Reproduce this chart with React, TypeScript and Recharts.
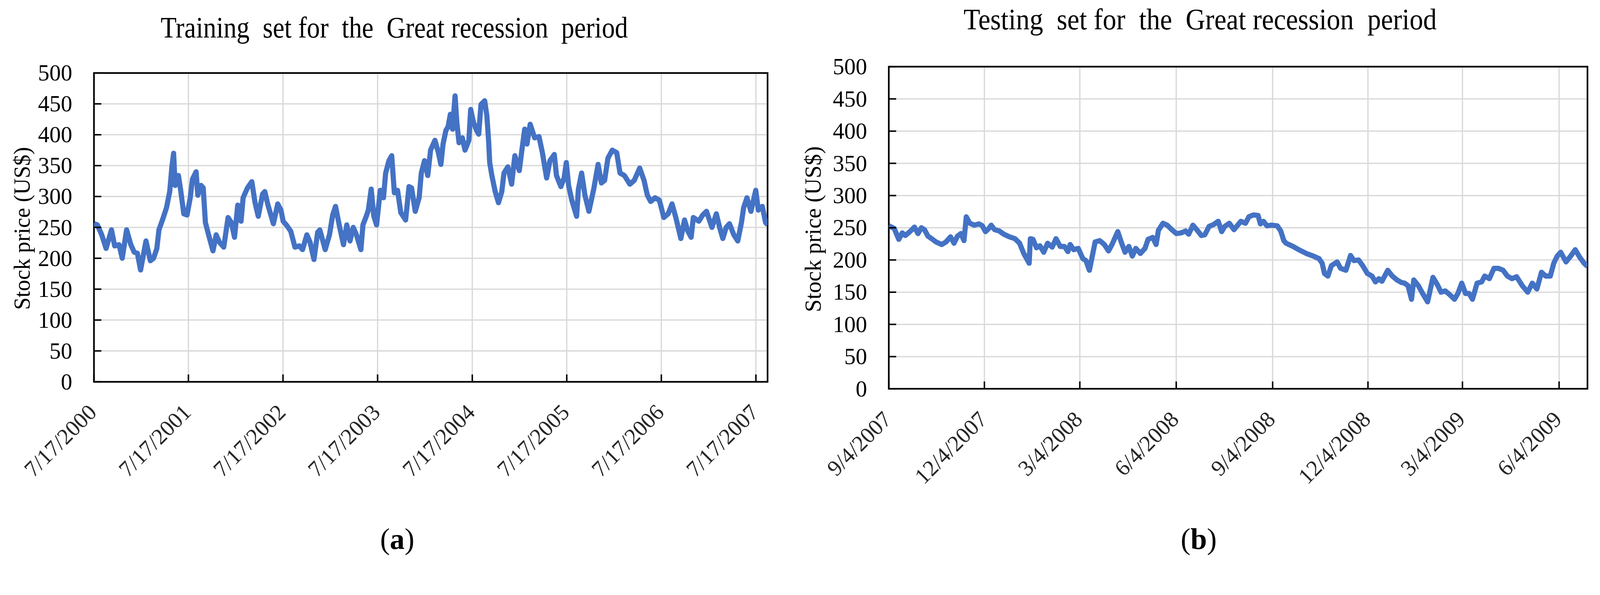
import React, { useLayoutEffect, useState } from 'react';
import { LineChart, Line, XAxis, YAxis, CartesianGrid, ReferenceArea } from 'recharts';

// ---------- data ----------
const trainYears = [
  2000.541, 2000.577, 2000.623, 2000.669, 2000.726, 2000.760, 2000.806, 2000.840, 2000.886, 2000.931,
  2000.966, 2001.000, 2001.034, 2001.091, 2001.137, 2001.171, 2001.206, 2001.228, 2001.274, 2001.308,
  2001.342, 2001.365, 2001.383, 2001.399, 2001.434, 2001.456, 2001.491, 2001.525, 2001.559, 2001.582,
  2001.621, 2001.639, 2001.673, 2001.696, 2001.719, 2001.753, 2001.799, 2001.833, 2001.867, 2001.913,
  2001.959, 2001.993, 2002.027, 2002.061, 2002.096, 2002.118, 2002.164, 2002.210, 2002.244, 2002.278,
  2002.324, 2002.347, 2002.381, 2002.438, 2002.484, 2002.518, 2002.541, 2002.575, 2002.621, 2002.666,
  2002.712, 2002.746, 2002.792, 2002.826, 2002.867, 2002.906, 2002.929, 2002.986, 2003.031, 2003.065,
  2003.095, 2003.134, 2003.179, 2003.214, 2003.248, 2003.282, 2003.316, 2003.363, 2003.385, 2003.420,
  2003.442, 2003.472, 2003.500, 2003.529, 2003.568, 2003.602, 2003.625, 2003.660, 2003.689, 2003.717,
  2003.751, 2003.785, 2003.836, 2003.872, 2003.899, 2003.938, 2003.979, 2004.002, 2004.036, 2004.070,
  2004.100, 2004.146, 2004.181, 2004.209, 2004.232, 2004.262, 2004.285, 2004.309, 2004.332, 2004.359,
  2004.378, 2004.401, 2004.436, 2004.464, 2004.505, 2004.524, 2004.552, 2004.586, 2004.609, 2004.633,
  2004.672, 2004.695, 2004.714, 2004.725, 2004.748, 2004.783, 2004.818, 2004.853, 2004.876, 2004.917,
  2004.957, 2004.991, 2005.038, 2005.061, 2005.095, 2005.119, 2005.153, 2005.200, 2005.246, 2005.281,
  2005.327, 2005.362, 2005.408, 2005.431, 2005.478, 2005.512, 2005.535, 2005.559, 2005.593, 2005.644,
  2005.663, 2005.697, 2005.732, 2005.774, 2005.825, 2005.871, 2005.906, 2005.940, 2005.975, 2006.021,
  2006.068, 2006.103, 2006.149, 2006.207, 2006.253, 2006.311, 2006.357, 2006.392, 2006.427, 2006.473,
  2006.519, 2006.566, 2006.612, 2006.653, 2006.693, 2006.746, 2006.785, 2006.820, 2006.855, 2006.878,
  2006.936, 2006.977, 2007.017, 2007.075, 2007.121, 2007.156, 2007.190, 2007.225, 2007.260, 2007.306,
  2007.348, 2007.387, 2007.410, 2007.445, 2007.487, 2007.538, 2007.565, 2007.607, 2007.642, 2007.663,
];
const trainPrices = [
  256, 254, 238, 216, 246, 220, 222, 200, 246, 222,
  210, 208, 181, 228, 196, 200, 216, 246, 266, 282,
  308, 348, 370, 318, 334, 312, 272, 270, 298, 328,
  340, 302, 318, 314, 258, 238, 212, 238, 226, 218,
  266, 258, 234, 286, 260, 298, 314, 324, 290, 268,
  304, 308, 286, 256, 288, 278, 260, 254, 244, 218,
  220, 214, 238, 226, 198, 242, 246, 214, 238, 270,
  284, 254, 222, 254, 228, 250, 238, 214, 254, 268,
  278, 312, 268, 254, 310, 298, 338, 358, 366, 306,
  310, 274, 262, 316, 314, 276, 298, 338, 358, 334,
  375, 391, 372, 352, 385, 407, 413, 433, 409, 463,
  419, 387, 395, 375, 391, 441, 421, 407, 401, 449,
  455, 431, 389, 355, 334, 308, 290, 308, 338, 348,
  320, 366, 342, 370, 409, 385, 417, 395, 397, 372,
  330, 358, 368, 334, 316, 330, 355, 318, 294, 268,
  312, 338, 302, 276, 312, 352, 322, 326, 362, 375,
  371, 338, 334, 320, 326, 346, 326, 302, 292, 298,
  294, 266, 272, 288, 266, 232, 262, 244, 234, 266,
  260, 270, 276, 250, 272, 250, 232, 250, 256, 238,
  228, 258, 282, 298, 276, 310, 278, 284, 258, 254,
];

const testYears = [
  2007.674, 2007.688, 2007.700, 2007.709, 2007.717, 2007.729, 2007.741, 2007.750, 2007.759, 2007.767,
  2007.776, 2007.788, 2007.797, 2007.812, 2007.823, 2007.835, 2007.844, 2007.853, 2007.862, 2007.870,
  2007.876, 2007.885, 2007.897, 2007.909, 2007.918, 2007.926, 2007.935, 2007.941, 2007.950, 2007.962,
  2007.974, 2007.988, 2008.003, 2008.015, 2008.026, 2008.040, 2008.043, 2008.050, 2008.059, 2008.068,
  2008.078, 2008.088, 2008.100, 2008.110, 2008.121, 2008.132, 2008.141, 2008.147, 2008.156, 2008.168,
  2008.180, 2008.188, 2008.197, 2008.206, 2008.212, 2008.224, 2008.236, 2008.247, 2008.256, 2008.271,
  2008.280, 2008.290, 2008.300, 2008.309, 2008.318, 2008.330, 2008.342, 2008.350, 2008.362, 2008.371,
  2008.377, 2008.389, 2008.400, 2008.412, 2008.424, 2008.436, 2008.448, 2008.456, 2008.467, 2008.477,
  2008.489, 2008.498, 2008.509, 2008.521, 2008.533, 2008.542, 2008.550, 2008.562, 2008.574, 2008.592,
  2008.604, 2008.613, 2008.625, 2008.637, 2008.643, 2008.651, 2008.660, 2008.672, 2008.687, 2008.696,
  2008.704, 2008.710, 2008.728, 2008.746, 2008.763, 2008.781, 2008.796, 2008.804, 2008.810, 2008.819,
  2008.828, 2008.843, 2008.852, 2008.866, 2008.878, 2008.887, 2008.899, 2008.910, 2008.922, 2008.934,
  2008.943, 2008.952, 2008.960, 2008.975, 2008.987, 2008.999, 2009.011, 2009.019, 2009.028, 2009.037,
  2009.043, 2009.055, 2009.066, 2009.079, 2009.093, 2009.105, 2009.114, 2009.125, 2009.137, 2009.149,
  2009.158, 2009.168, 2009.178, 2009.187, 2009.196, 2009.208, 2009.220, 2009.228, 2009.240, 2009.252,
  2009.264, 2009.276, 2009.287, 2009.299, 2009.311, 2009.326, 2009.340, 2009.352, 2009.364, 2009.376,
  2009.387, 2009.399, 2009.408, 2009.417, 2009.426, 2009.440, 2009.452, 2009.464, 2009.476, 2009.487,
  2009.496,
];
const testPrices = [
  253, 249, 232, 242, 238, 244, 251, 241, 250, 247,
  237, 232, 228, 224, 228, 236, 226, 237, 241, 230,
  267, 257, 254, 256, 253, 244, 249, 254, 247, 245,
  240, 236, 233, 226, 210, 195, 233, 232, 219, 222,
  212, 226, 220, 233, 221, 221, 213, 224, 216, 218,
  202, 199, 184, 210, 228, 230, 224, 214, 224, 244,
  228, 212, 221, 206, 218, 210, 218, 232, 235, 224,
  246, 257, 254, 247, 241, 242, 245, 240, 254, 247,
  238, 239, 252, 255, 260, 244, 252, 257, 247, 260,
  257, 267, 270, 269, 256, 260, 253, 254, 253, 245,
  230, 226, 221, 215, 210, 206, 202, 195, 179, 175,
  191, 197, 187, 184, 207, 199, 200, 191, 179, 175,
  166, 171, 167, 184, 175, 169, 165, 164, 160, 139,
  169, 160, 148, 135, 173, 161, 150, 152, 146, 139,
  148, 164, 148, 148, 139, 164, 166, 175, 171, 187,
  187, 184, 175, 171, 174, 160, 150, 164, 155, 181,
  175, 175, 195, 206, 212, 197, 206, 216, 204, 195,
  190,
];

const trainTickLabels = ['7/17/2000', '7/17/2001', '7/17/2002', '7/17/2003', '7/17/2004', '7/17/2005', '7/17/2006', '7/17/2007'];
const testTickLabels = ['9/4/2007', '12/4/2007', '3/4/2008', '6/4/2008', '9/4/2008', '12/4/2008', '3/4/2009', '6/4/2009'];
const yTicks = [0, 50, 100, 150, 200, 250, 300, 350, 400, 450, 500];
const trainRange = ['7/17/2000', '8/31/2007'];
const testRange = ['9/4/2007', '7/1/2009'];

// ---------- helpers ----------
const FONT = "'Liberation Serif', 'Times New Roman', Times, serif";
const LINE_COLOR = '#4472C4';
const GRID_COLOR = '#d9d9d9';
const Y_GAP = 59;
const PAGE_W = 4342;
const PAGE_H = 1523;

function decYear(label: string): number {
  const [m, d, y] = label.split('/').map(Number);
  const a = Date.UTC(y, m - 1, d);
  const s = Date.UTC(y, 0, 1);
  const e = Date.UTC(y + 1, 0, 1);
  return y + (a - s) / (e - s);
}

const makeXTick = (labels: string[]) => {
  const pos = labels.map(decYear);
  return (props: any) => {
    const { x, y, payload } = props;
    let idx = 0;
    let best = Infinity;
    pos.forEach((p, i) => {
      const dd = Math.abs(p - payload.value);
      if (dd < best) { best = dd; idx = i; }
    });
    const ax = x - 4;
    const ay = y + 72;
    return (
      <g>
        <line x1={x} y1={y} x2={x} y2={y - 20} stroke="#000" strokeWidth={4} />
        <text
          x={ax}
          y={ay}
          transform={`rotate(-45, ${ax}, ${ay})`}
          textAnchor="end"
          dominantBaseline="central"
          fontFamily={FONT}
          style={{ fontFamily: FONT }}
          fontSize={61}
          fill="#262626"
        >
          {labels[idx]}
        </text>
      </g>
    );
  };
};

const YTick = (props: any) => {
  const { x, y, payload } = props;
  return (
    <g>
      <line x1={x + Y_GAP} y1={y} x2={x + Y_GAP + 20} y2={y} stroke="#000" strokeWidth={4} />
      <text
        x={x}
        y={y}
        textAnchor="end"
        dominantBaseline="central"
        fontFamily={FONT}
        style={{ fontFamily: FONT }}
        fontSize={62}
        fill="#000"
      >
        {payload.value}
      </text>
    </g>
  );
};

type PanelProps = {
  years: number[];
  prices: number[];
  tickLabels: string[];
  range: string[];
  left: number;
  width: number;
  margin: { top: number; right: number; bottom: number; left: number };
};

const Panel = ({ years, prices, tickLabels, range, left, width, margin }: PanelProps) => {
  const data = years.map((t, i) => ({ t, price: prices[i] }));
  const domain = [decYear(range[0]), decYear(range[1])];
  const ticks = tickLabels.map(decYear);
  return (
    <div style={{ position: 'absolute', left, top: 0, width, height: PAGE_H }}>
      <LineChart width={width} height={PAGE_H} data={data} margin={margin} style={{ fontFamily: FONT }}>
        <CartesianGrid stroke={GRID_COLOR} strokeWidth={3.5} />
        <XAxis
          dataKey="t"
          type="number"
          domain={domain}
          ticks={ticks}
          interval={0}
          allowDataOverflow
          height={100}
          axisLine={false}
          tickLine={false}
          tickSize={0}
          tickMargin={0}
          tick={makeXTick(tickLabels)}
        />
        <YAxis
          type="number"
          domain={[0, 500]}
          ticks={yTicks}
          interval={0}
          width={200}
          axisLine={false}
          tickLine={false}
          tickSize={0}
          tickMargin={Y_GAP}
          tick={YTick}
        />
        <Line
          type="linear"
          dataKey="price"
          stroke={LINE_COLOR}
          strokeWidth={14}
          strokeLinejoin="round"
          dot={false}
          activeDot={false}
          isAnimationActive={false}
        />
        <ReferenceArea
          x1={domain[0]}
          x2={domain[1]}
          y1={0}
          y2={500}
          fill="none"
          fillOpacity={0}
          stroke="#000"
          strokeWidth={4.5}
          ifOverflow="visible"
        />
      </LineChart>
    </div>
  );
};

export default function App() {
  const [scale, setScale] = useState(1);
  useLayoutEffect(() => {
    const w = document.documentElement.clientWidth || window.innerWidth;
    const h = window.innerHeight;
    const s = Math.min(w / PAGE_W, h / PAGE_H);
    if (s > 0 && isFinite(s)) setScale(s);
  }, []);
  return (
    <div
      style={{
        position: 'absolute',
        left: 0,
        top: 0,
        width: PAGE_W,
        height: PAGE_H,
        background: '#fff',
        overflow: 'hidden',
        transform: `scale(${scale})`,
        transformOrigin: '0 0',
        fontFamily: FONT,
      }}
    >
      <Panel
        years={trainYears}
        prices={trainPrices}
        tickLabels={trainTickLabels}
        range={trainRange}
        left={0}
        width={2150}
        margin={{ top: 198, right: 67, bottom: 387, left: 55 }}
      />
      <Panel
        years={testYears}
        prices={testPrices}
        tickLabels={testTickLabels}
        range={testRange}
        left={2150}
        width={2192}
        margin={{ top: 181, right: 34, bottom: 368, left: 62 }}
      />
      <svg width={PAGE_W} height={PAGE_H} style={{ position: 'absolute', left: 0, top: 0, pointerEvents: 'none' }}>
        <text x={436} y={102} fontFamily={FONT} fontSize={80} fill="#000" textLength={1268} lengthAdjust="spacingAndGlyphs" style={{ whiteSpace: 'pre' }}>
          {'Training  set for  the  Great recession  period'}
        </text>
        <text x={2615} y={80} fontFamily={FONT} fontSize={80} fill="#000" textLength={1284} lengthAdjust="spacingAndGlyphs" style={{ whiteSpace: 'pre' }}>
          {'Testing  set for  the  Great recession  period'}
        </text>
        <text x={60} y={620} transform="rotate(-90, 60, 620)" textAnchor="middle" dominantBaseline="central" fontFamily={FONT} fontSize={62} fill="#000" textLength={442} lengthAdjust="spacingAndGlyphs">
          Stock price (US$)
        </text>
        <text x={2207} y={622} transform="rotate(-90, 2207, 622)" textAnchor="middle" dominantBaseline="central" fontFamily={FONT} fontSize={62} fill="#000" textLength={450} lengthAdjust="spacingAndGlyphs">
          Stock price (US$)
        </text>
        <text x={1078} y={1489} textAnchor="middle" fontFamily={FONT} fontSize={80} fill="#000">
          (<tspan fontWeight="bold">a</tspan>)
        </text>
        <text x={3253} y={1489} textAnchor="middle" fontFamily={FONT} fontSize={80} fill="#000">
          (<tspan fontWeight="bold">b</tspan>)
        </text>
      </svg>
    </div>
  );
}
